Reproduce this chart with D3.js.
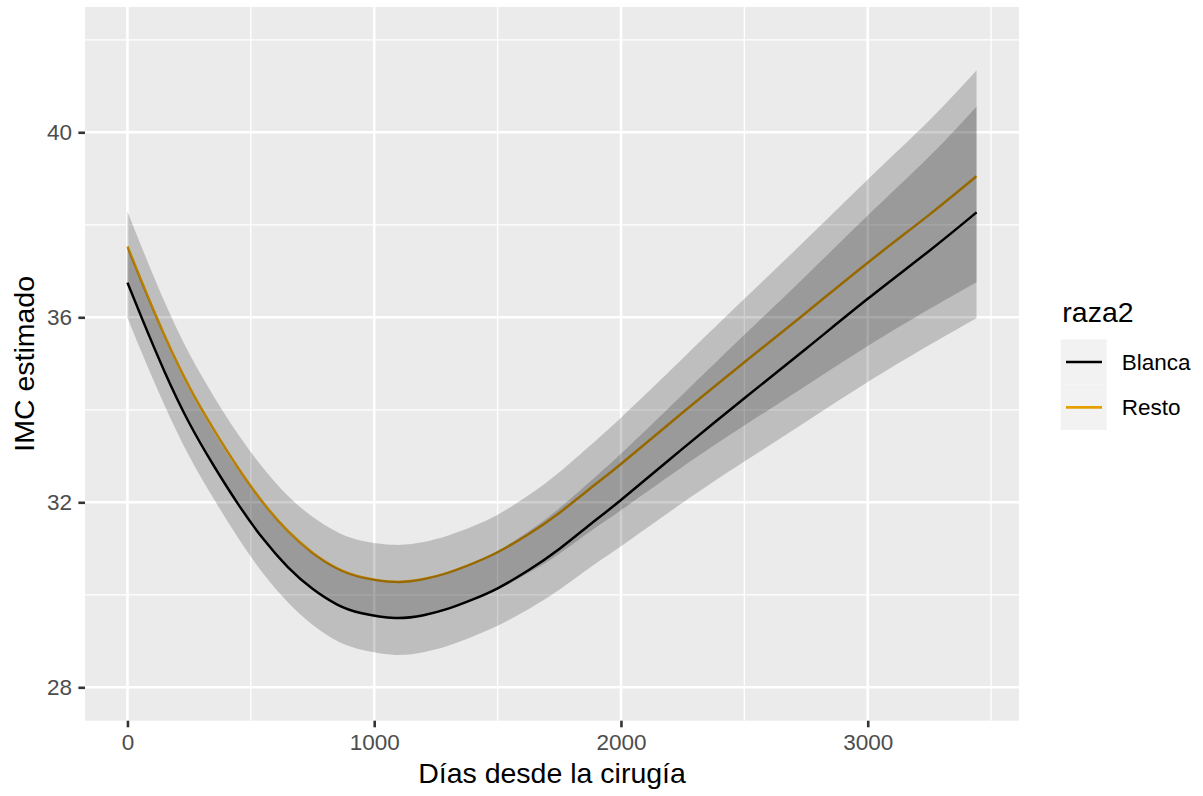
<!DOCTYPE html>
<html>
<head>
<meta charset="utf-8">
<script src="https://cdn.jsdelivr.net/npm/d3@7"></script>
<style>
  html, body { margin: 0; padding: 0; background: #ffffff; }
  svg { display: block; font-family: "Liberation Sans", Arial, sans-serif; }
</style>
</head>
<body>
<svg id="chart" width="1203" height="796"></svg>
<script>
// ---- data ----
const days = [0, 60, 150, 250, 350, 450, 550, 650, 750, 850, 950, 1085, 1200, 1300, 1400, 1500, 1625, 1750, 1875, 2000, 2250, 2500, 2750, 3000, 3250, 3441];
const blanca   = [36.75, 35.96, 34.83, 33.72, 32.79, 31.95, 31.21, 30.60, 30.13, 29.79, 29.60, 29.50, 29.56, 29.70, 29.90, 30.14, 30.53, 30.99, 31.52, 32.05, 33.16, 34.25, 35.32, 36.40, 37.44, 38.27];
const blancaLo = [35.99, 35.21, 34.10, 33.00, 32.07, 31.22, 30.46, 29.84, 29.35, 29.00, 28.81, 28.70, 28.76, 28.90, 29.10, 29.33, 29.69, 30.11, 30.59, 31.05, 31.99, 32.88, 33.74, 34.60, 35.40, 35.98];
const blancaHi = [37.51, 36.71, 35.56, 34.44, 33.51, 32.68, 31.96, 31.36, 30.91, 30.58, 30.39, 30.30, 30.36, 30.50, 30.70, 30.95, 31.37, 31.87, 32.45, 33.05, 34.33, 35.62, 36.90, 38.20, 39.48, 40.56];
const resto    = [37.53, 36.74, 35.61, 34.50, 33.57, 32.73, 31.99, 31.38, 30.91, 30.57, 30.38, 30.28, 30.34, 30.48, 30.68, 30.92, 31.31, 31.77, 32.30, 32.83, 33.94, 35.03, 36.10, 37.18, 38.22, 39.05];
const restoLo  = [36.77, 35.99, 34.88, 33.78, 32.85, 32.00, 31.24, 30.62, 30.13, 29.78, 29.59, 29.48, 29.54, 29.68, 29.88, 30.11, 30.47, 30.89, 31.37, 31.83, 32.77, 33.66, 34.52, 35.38, 36.18, 36.76];
const restoHi  = [38.29, 37.49, 36.34, 35.22, 34.29, 33.46, 32.74, 32.14, 31.69, 31.36, 31.17, 31.08, 31.14, 31.28, 31.48, 31.73, 32.15, 32.65, 33.23, 33.83, 35.11, 36.40, 37.68, 38.98, 40.26, 41.34];

const xMajor = [0, 1000, 2000, 3000];
const xMinor = [500, 1500, 2500, 3500];
const yMajor = [28, 32, 36, 40];
const yMinor = [30, 34, 38, 42];

const groups = ["Blanca", "Resto"];
const groupColors = ["#000000", "#E69F00"];
const xTitle = "Días desde la cirugía";
const yTitle = "IMC estimado";
const legendTitle = "raza2";

// ---- layout ----
const panel = { left: 85, right: 1019, top: 7, bottom: 720.7 };
const svg = d3.select("#chart");

const x = d3.scaleLinear().domain([-172, 3613]).range([panel.left, panel.right]);
const y = d3.scaleLinear().domain([27.278, 42.709]).range([panel.bottom, panel.top]);

// panel background
svg.append("rect")
  .attr("x", panel.left).attr("y", panel.top)
  .attr("width", panel.right - panel.left).attr("height", panel.bottom - panel.top)
  .attr("fill", "#EBEBEB");

const grid = svg.append("g");
// minor grid
grid.selectAll(".ymin").data(yMinor).enter().append("line")
  .attr("x1", panel.left).attr("x2", panel.right)
  .attr("y1", d => y(d)).attr("y2", d => y(d))
  .attr("stroke", "#ffffff").attr("stroke-width", 1.3);
grid.selectAll(".xmin").data(xMinor).enter().append("line")
  .attr("y1", panel.top).attr("y2", panel.bottom)
  .attr("x1", d => x(d)).attr("x2", d => x(d))
  .attr("stroke", "#ffffff").attr("stroke-width", 1.3);
// major grid
grid.selectAll(".ymaj").data(yMajor).enter().append("line")
  .attr("x1", panel.left).attr("x2", panel.right)
  .attr("y1", d => y(d)).attr("y2", d => y(d))
  .attr("stroke", "#ffffff").attr("stroke-width", 2.6);
grid.selectAll(".xmaj").data(xMajor).enter().append("line")
  .attr("y1", panel.top).attr("y2", panel.bottom)
  .attr("x1", d => x(d)).attr("x2", d => x(d))
  .attr("stroke", "#ffffff").attr("stroke-width", 2.6);

// series
const series = [
  { name: groups[0], color: groupColors[0], fit: blanca, lo: blancaLo, hi: blancaHi },
  { name: groups[1], color: groupColors[1], fit: resto,  lo: restoLo,  hi: restoHi }
];

const idx = d3.range(days.length);

// lines drawn first (ribbons overlay them, as in the reference)
series.forEach(s => {
  const line = d3.line()
    .x(i => x(days[i]))
    .y(i => y(s.fit[i]))
    .curve(d3.curveNatural);
  svg.append("path")
    .datum(idx)
    .attr("d", line)
    .attr("fill", "none")
    .attr("stroke", s.color)
    .attr("stroke-width", 2.5)
    .attr("stroke-linejoin", "round");
});

series.forEach(s => {
  const area = d3.area()
    .x(i => x(days[i]))
    .y0(i => y(s.lo[i]))
    .y1(i => y(s.hi[i]))
    .curve(d3.curveNatural);
  svg.append("path")
    .datum(idx)
    .attr("d", area)
    .attr("fill", "#000000")
    .attr("fill-opacity", 0.19);
});

// axes
const fontTick = 22.5;
const yAxis = d3.axisLeft(y).tickValues(yMajor).tickSize(6.6).tickPadding(6.5).tickFormat(d3.format("d"));
const xAxis = d3.axisBottom(x).tickValues(xMajor).tickSize(6.6).tickPadding(7.2).tickFormat(d3.format("d"));

const gy = svg.append("g").attr("transform", `translate(${panel.left},0)`).call(yAxis);
const gx = svg.append("g").attr("transform", `translate(0,${panel.bottom})`).call(xAxis);
[gx, gy].forEach(g => {
  g.select(".domain").remove();
  g.selectAll(".tick line").attr("stroke", "#333333").attr("stroke-width", 2.6);
  g.selectAll(".tick text")
    .attr("fill", "#4D4D4D")
    .style("font-size", fontTick + "px")
    .style("font-family", "'Liberation Sans', Arial, sans-serif");
});

// axis titles
svg.append("text")
  .attr("x", (panel.left + panel.right) / 2)
  .attr("y", 783.3)
  .attr("text-anchor", "middle")
  .attr("fill", "#000000")
  .style("font-size", "28.5px")
  .text(xTitle);

svg.append("text")
  .attr("transform", `translate(33.7,${(panel.top + panel.bottom) / 2}) rotate(-90)`)
  .attr("text-anchor", "middle")
  .attr("fill", "#000000")
  .style("font-size", "28.5px")
  .text(yTitle);

// legend
const lg = svg.append("g");
lg.append("text")
  .attr("x", 1062.3).attr("y", 321.7)
  .attr("fill", "#000000")
  .style("font-size", "28.5px")
  .text(legendTitle);

const keyX = 1060.7, keyY = 339.3, keyW = 46, keyH = 45.35;
groups.forEach((g, i) => {
  const ky = keyY + i * keyH;
  lg.append("rect")
    .attr("x", keyX).attr("y", ky)
    .attr("width", keyW).attr("height", keyH)
    .attr("fill", "#F2F2F2");
  lg.append("line")
    .attr("x1", keyX + 5.3).attr("x2", keyX + keyW - 4.7)
    .attr("y1", ky + keyH / 2).attr("y2", ky + keyH / 2)
    .attr("stroke", groupColors[i]).attr("stroke-width", 2.6);
  lg.append("text")
    .attr("x", 1121.7).attr("y", ky + keyH / 2 + 8.1)
    .attr("fill", "#000000")
    .style("font-size", fontTick + "px")
    .text(g);
});
</script>
</body>
</html>
